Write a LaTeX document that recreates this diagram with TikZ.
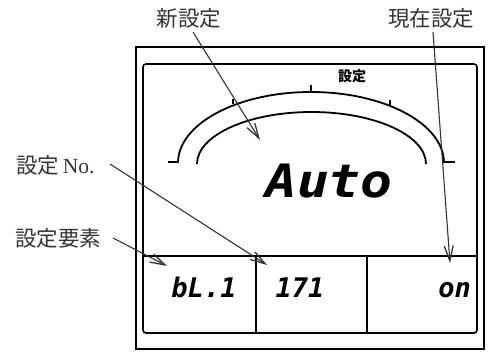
\documentclass[tikz,border=0pt]{standalone}
\usepackage{fontspec}
\usepackage{graphicx}
\newfontfamily\cjk{Noto Sans CJK JP}
\newfontfamily\segfont{DejaVu Sans Mono}
\usetikzlibrary{arrows.meta}
\begin{document}
\begin{tikzpicture}[x=1pt,y=-1pt,
  frame/.style={line width=1.6pt,black},
  lcd/.style={line width=1.8pt,black},
  tickmark/.style={line width=2.6pt,black},
  label/.style={font=\cjk\fontsize{21.5}{24}\selectfont, text=black!80, inner sep=0pt},
  seg/.style={font=\segfont\bfseries\itshape\fontsize{27}{30}\selectfont, inner sep=0pt, anchor=base},
  pointer/.style={line width=1.1pt, black!80, -{Straight Barb[length=15pt,width=9pt,line width=1.3pt]}}]
\useasboundingbox (0,0) rectangle (495,351);
% frames
\draw[frame] (136,47) rectangle (484,349);
\draw[frame, rounded corners=3pt] (143,64) rectangle (477,333);
\draw[frame] (143,256) -- (477,256);
\draw[frame] (256,256) -- (256,333);
\draw[frame] (367,256) -- (367,333);
% arcs
\draw[lcd] (178,163) arc[start angle=180, end angle=360, x radius=133, y radius=71];
\draw[lcd] (197,164) arc[start angle=180, end angle=360, x radius=114.5, y radius=52];
\draw[tickmark] (168,162) -- (179,162);
\draw[tickmark] (444,162) -- (455,162);
\draw[line width=2pt] (311,92) -- (311,85);
\draw[line width=1.6pt] (233,104) -- (233,99);
\draw[line width=1.6pt] (390,105) -- (390,100);
\node[font=\cjk\bfseries\fontsize{14}{15}\selectfont, inner sep=0pt] (lcdlab) at (352,76) {設定};
% segment texts
\node[inner sep=0pt, anchor=base, font=\segfont\bfseries\itshape\fontsize{46}{50}\selectfont] (auto) at (329,197) {\scalebox{1.15}[1]{Auto}};
\node[seg] (elem) at (204,297) {bL.1};
\node[seg] (num) at (300,297) {171};
\node[seg, anchor=base east] (cur) at (471,297) {on};
% labels
\node[label] (newlab) at (189,18) {新設定};
\node[label] (curlab) at (431,18) {現在設定};
\node[label, anchor=west] (nolab) at (16,165) {設定\,{\fontspec{Liberation Serif}No.}};
\node[label, anchor=west] (elemlab) at (15,238) {設定要素};
% connector endpoints
\coordinate (p1s) at (193,32); \coordinate (p1e) at (260,140);
\coordinate (p2s) at (433,32); \coordinate (p2e) at (450,263);
\coordinate (p3s) at (110,164); \coordinate (p3e) at (267,265);
\coordinate (p4s) at (113,238); \coordinate (p4e) at (167,266);
\draw[pointer] (p1s) -- (p1e);
\draw[pointer] (p2s) -- (p2e);
\draw[pointer] (p3s) -- (p3e);
\draw[pointer] (p4s) -- (p4e);
\end{tikzpicture}
\end{document}
